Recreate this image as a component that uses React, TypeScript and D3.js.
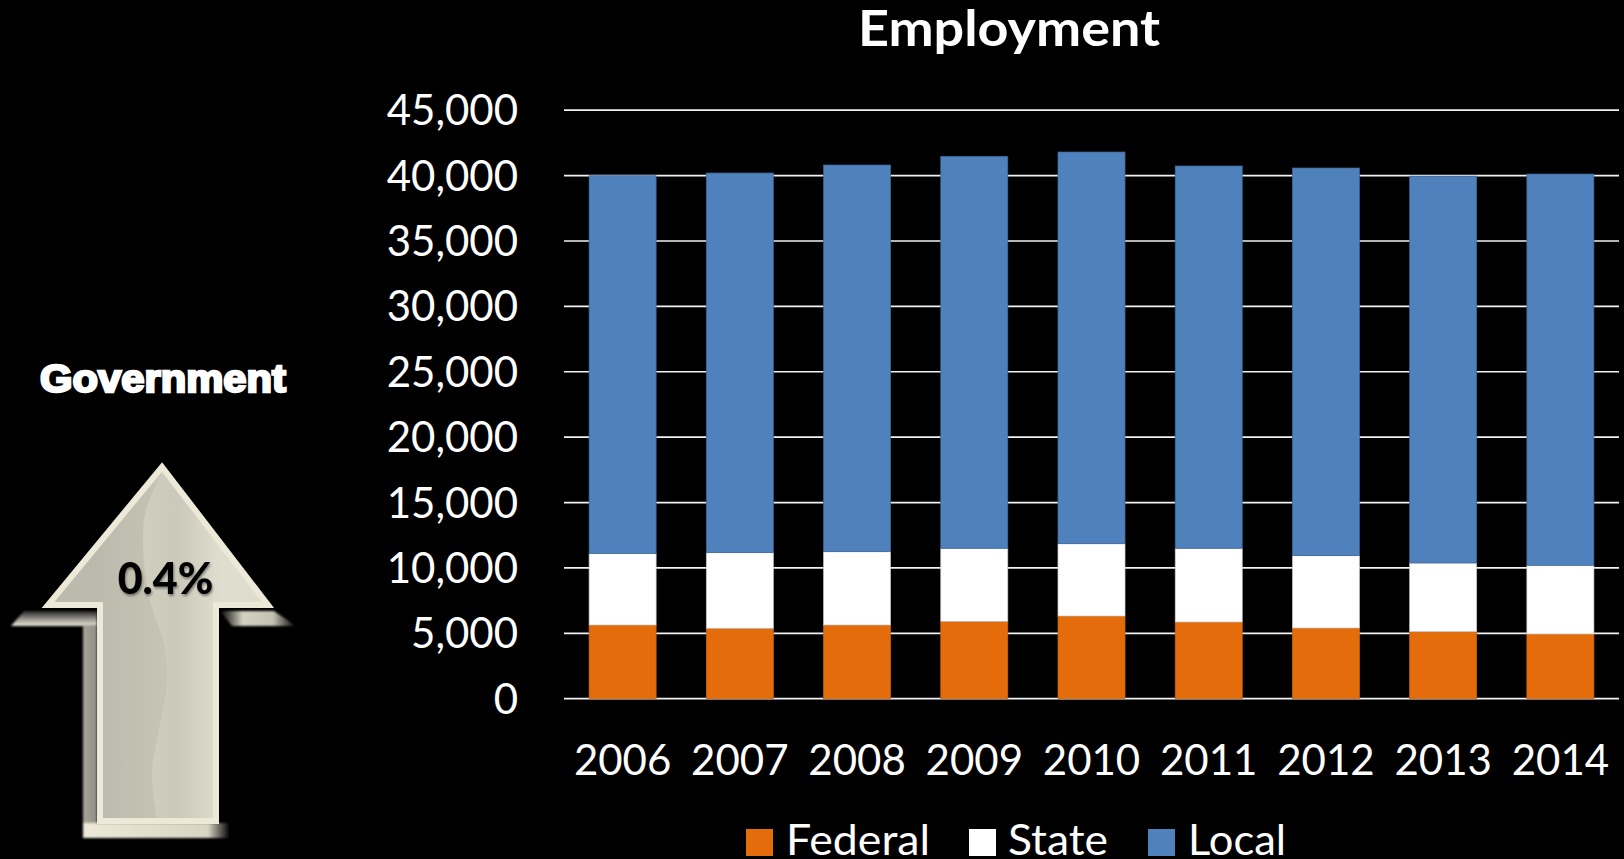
import React from "react";
import * as d3 from "d3";

const years = ["2006", "2007", "2008", "2009", "2010", "2011", "2012", "2013", "2014"];
const federal = [5635, 5383, 5635, 5916, 6323, 5865, 5406, 5123, 4947];
const state = [5455, 5782, 5605, 5584, 5527, 5635, 5529, 5253, 5253];
const local = [28900, 29032, 29570, 29975, 29953, 29233, 29645, 29584, 29920];
const seriesNames = ["Federal", "State", "Local"];
const seriesColors = ["#e46c0a", "#ffffff", "#4f81bd"];
const seriesEdges = ["#c8650f", "#c4c4c4", "#3f6797"];
const yTicks = [0, 5000, 10000, 15000, 20000, 25000, 30000, 35000, 40000, 45000];
const changeLabel = "0.4%";

const WIDTH = 1624;
const HEIGHT = 859;
const FONT = "Lato, Carlito, sans-serif";

const x = d3.scaleBand<string>().domain(years).range([564, 1619]).paddingInner(0.428).paddingOuter(0.214);
const y = d3.scaleLinear().domain([0, 45000]).range([698.7, 110.2]);

const rows = years.map((year, i) => ({ year, Federal: federal[i], State: state[i], Local: local[i] }));
const stacked = d3.stack<any>().keys(seriesNames)(rows);
const fmt = d3.format(",");
const path = d3.line();

// Arrow outline, and the soft wave running down its middle.
const arrowOutline: [number, number][] = [
  [162, 467], [268, 605], [216, 605], [216, 821], [100, 821], [100, 605], [48, 605],
];
const wave = d3.line().curve(d3.curveCatmullRom)([
  [163, 470], [146, 510], [143, 545], [150, 600], [164, 645], [167, 680], [160, 725], [152, 770], [157, 820],
]) as string;
const waveRegion = `${wave} L216,820 L216,605 L268,605 L163,470 Z`;

function Arrow() {
  return (
    <g>
      <defs>
        <linearGradient id="shaftShade" x1="97" x2="219" y1="0" y2="0" gradientUnits="userSpaceOnUse">
          <stop offset="0" stopColor="#bcbaac" />
          <stop offset="0.5" stopColor="#c5c3b4" />
          <stop offset="1" stopColor="#cbc9ba" />
        </linearGradient>
        <linearGradient id="waveShade" x1="145" x2="219" y1="0" y2="0" gradientUnits="userSpaceOnUse">
          <stop offset="0" stopColor="#d0cebf" />
          <stop offset="0.45" stopColor="#cbc9ba" />
          <stop offset="1" stopColor="#dfddce" />
        </linearGradient>
        <linearGradient id="sideLeft" x1="83" x2="97" y1="0" y2="0" gradientUnits="userSpaceOnUse">
          <stop offset="0" stopColor="#a8a69b" />
          <stop offset="1" stopColor="#8f8d84" />
        </linearGradient>
        <linearGradient id="ledgeLeft" x1="0" x2="0" y1="611" y2="626" gradientUnits="userSpaceOnUse">
          <stop offset="0" stopColor="#222" />
          <stop offset="0.5" stopColor="#8f8d84" />
          <stop offset="1" stopColor="#ece9d8" />
        </linearGradient>
        <linearGradient id="ledgeRight" x1="220" x2="296" y1="0" y2="0" gradientUnits="userSpaceOnUse">
          <stop offset="0" stopColor="#000" />
          <stop offset="0.3" stopColor="#d4d2c3" />
          <stop offset="0.7" stopColor="#c4c2b3" />
          <stop offset="1" stopColor="#000" />
        </linearGradient>
        <linearGradient id="foot" x1="83" x2="230" y1="0" y2="0" gradientUnits="userSpaceOnUse">
          <stop offset="0" stopColor="#ece9d8" />
          <stop offset="0.85" stopColor="#d8d5c5" />
          <stop offset="1" stopColor="#000" />
        </linearGradient>
        <filter id="soft" x="-10%" y="-10%" width="120%" height="120%">
          <feGaussianBlur stdDeviation="0.8" />
        </filter>
        <filter id="textShadow" x="-20%" y="-20%" width="140%" height="150%">
          <feDropShadow dx="1" dy="2" stdDeviation="1.2" floodColor="#000" floodOpacity="0.4" />
        </filter>
        <clipPath id="arrowClip">
          <path d={path(arrowOutline) + "Z"} />
        </clipPath>
      </defs>

      <g filter="url(#soft)">
        <path d="M11,626 L24,611 L97,611 L97,626 Z" fill="url(#ledgeLeft)" />
        <rect x="83" y="625" width="14" height="200" fill="url(#sideLeft)" />
        <rect x="83" y="823" width="147" height="15" fill="url(#foot)" />
        <path d="M220,611 L274,611 L296,626 L232,626 Z" fill="url(#ledgeRight)" />
      </g>

      <path d={path(arrowOutline) + "Z"} fill="url(#shaftShade)" />
      <path d={waveRegion} fill="url(#waveShade)" clipPath="url(#arrowClip)" />
      <path d={path(arrowOutline) + "Z"} fill="none" stroke="#ece9d8" strokeWidth={6} strokeLinejoin="miter" />

      <text
        x={165.5}
        y={593.5}
        textAnchor="middle"
        fontFamily={FONT}
        fontWeight={900}
        fontSize={43}
        fill="#000"
        filter="url(#textShadow)"
      >
        {changeLabel}
      </text>
    </g>
  );
}

export default function App() {
  const barWidth = x.bandwidth();
  return (
    <svg
      width={WIDTH}
      height={HEIGHT}
      viewBox={`0 0 ${WIDTH} ${HEIGHT}`}
      style={{ position: "absolute", left: 0, top: 0, display: "block" }}
    >
      <rect width={WIDTH} height={HEIGHT} fill="#000" />

      <text
        x={1009}
        y={46}
        textAnchor="middle"
        fontFamily={FONT}
        fontWeight={700}
        fontSize={50}
        fill="#fff"
        textLength={302}
        lengthAdjust="spacingAndGlyphs"
      >
        Employment
      </text>

      {yTicks.map((t) => (
        <g key={t}>
          <line x1={564} x2={1619} y1={y(t)} y2={y(t)} stroke="#f2f2f2" strokeWidth={1.7} />
          <text x={518} y={y(t) + 15} textAnchor="end" fontFamily={FONT} fontSize={42} fill="#fff">
            {fmt(t)}
          </text>
        </g>
      ))}

      {stacked.map((layer, i) => (
        <g key={layer.key} fill={seriesColors[i]} stroke={seriesEdges[i]} strokeWidth={0.7}>
          {layer.map((d, j) => (
            <rect
              key={years[j]}
              x={x(years[j])}
              width={barWidth}
              y={y(d[1])}
              height={y(d[0]) - y(d[1])}
            />
          ))}
        </g>
      ))}

      {years.map((year) => (
        <text
          key={year}
          x={(x(year) as number) + barWidth / 2}
          y={775}
          textAnchor="middle"
          fontFamily={FONT}
          fontSize={42}
          fill="#fff"
        >
          {year}
        </text>
      ))}

      {seriesNames.map((name, i) => {
        const swatchX = [746, 969, 1148][i];
        const labelX = [786, 1008, 1188][i];
        const labelWidth = [144, 100, 98][i];
        return (
          <g key={name}>
            <rect x={swatchX} y={829} width={27} height={27} fill={seriesColors[i]} />
            <text
              x={labelX}
              y={855}
              fontFamily={FONT}
              fontSize={43}
              fill="#fff"
              textLength={labelWidth}
              lengthAdjust="spacingAndGlyphs"
            >
              {name}
            </text>
          </g>
        );
      })}

      <text
        x={163}
        y={392}
        textAnchor="middle"
        fontFamily="'Liberation Sans', Arial, sans-serif"
        fontWeight={700}
        fontSize={38}
        fill="#fff"
        stroke="#fff"
        strokeWidth={2.4}
        textLength={246}
        lengthAdjust="spacingAndGlyphs"
      >
        Government
      </text>

      <Arrow />
    </svg>
  );
}
